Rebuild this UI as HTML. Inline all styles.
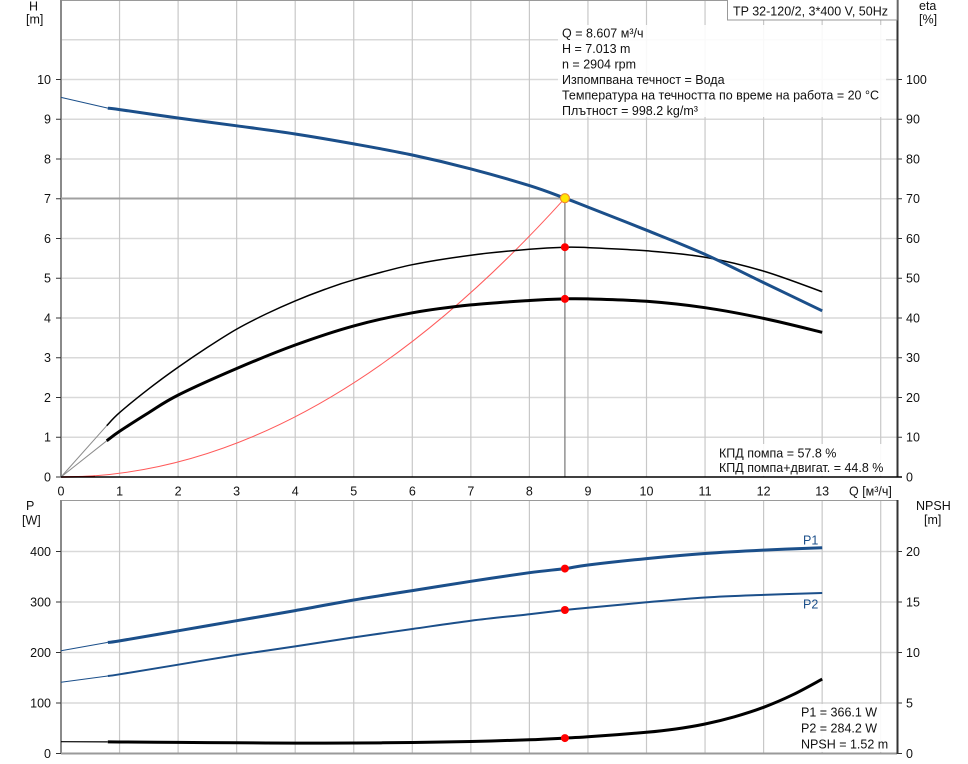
<!DOCTYPE html>
<html><head><meta charset="utf-8"><style>
html,body{margin:0;padding:0;background:#fff;}
svg{display:block;}
text{font-family:"Liberation Sans","DejaVu Sans",sans-serif;font-size:12.5px;fill:#111;}
</style></head><body>
<svg id="chart" width="968" height="764" viewBox="0 0 968 764" xmlns="http://www.w3.org/2000/svg">
<rect width="968" height="764" fill="#fff"/>
<!-- TOP CHART GRID -->
<g stroke="#d9d9d9" stroke-width="1.6">
<line x1="61" y1="437.25" x2="897" y2="437.25"/>
<line x1="61" y1="397.5" x2="897" y2="397.5"/>
<line x1="61" y1="357.75" x2="897" y2="357.75"/>
<line x1="61" y1="318" x2="897" y2="318"/>
<line x1="61" y1="278.25" x2="897" y2="278.25"/>
<line x1="61" y1="238.5" x2="897" y2="238.5"/>
<line x1="61" y1="198.75" x2="897" y2="198.75"/>
<line x1="61" y1="159" x2="897" y2="159"/>
<line x1="61" y1="119.25" x2="897" y2="119.25"/>
<line x1="61" y1="79.5" x2="897" y2="79.5"/>
<line x1="61" y1="39.75" x2="897" y2="39.75"/>
</g>
<g stroke="#c8c8c8" stroke-width="1.2">
<line x1="119.55" y1="0" x2="119.55" y2="477"/>
<line x1="178.1" y1="0" x2="178.1" y2="477"/>
<line x1="236.65" y1="0" x2="236.65" y2="477"/>
<line x1="295.2" y1="0" x2="295.2" y2="477"/>
<line x1="353.75" y1="0" x2="353.75" y2="477"/>
<line x1="412.3" y1="0" x2="412.3" y2="477"/>
<line x1="470.85" y1="0" x2="470.85" y2="477"/>
<line x1="529.4" y1="0" x2="529.4" y2="477"/>
<line x1="587.95" y1="0" x2="587.95" y2="477"/>
<line x1="646.5" y1="0" x2="646.5" y2="477"/>
<line x1="705.05" y1="0" x2="705.05" y2="477"/>
<line x1="763.6" y1="0" x2="763.6" y2="477"/>
<line x1="822.15" y1="0" x2="822.15" y2="477"/>
<line x1="880.7" y1="0" x2="880.7" y2="477"/>
</g>
<!-- BOTTOM CHART GRID -->
<g stroke="#d9d9d9" stroke-width="1.6">
<line x1="61" y1="703" x2="897" y2="703"/>
<line x1="61" y1="652.5" x2="897" y2="652.5"/>
<line x1="61" y1="602" x2="897" y2="602"/>
<line x1="61" y1="551.5" x2="897" y2="551.5"/>
</g>
<g stroke="#c8c8c8" stroke-width="1.2">
<line x1="119.55" y1="500" x2="119.55" y2="753"/>
<line x1="178.1" y1="500" x2="178.1" y2="753"/>
<line x1="236.65" y1="500" x2="236.65" y2="753"/>
<line x1="295.2" y1="500" x2="295.2" y2="753"/>
<line x1="353.75" y1="500" x2="353.75" y2="753"/>
<line x1="412.3" y1="500" x2="412.3" y2="753"/>
<line x1="470.85" y1="500" x2="470.85" y2="753"/>
<line x1="529.4" y1="500" x2="529.4" y2="753"/>
<line x1="587.95" y1="500" x2="587.95" y2="753"/>
<line x1="646.5" y1="500" x2="646.5" y2="753"/>
<line x1="705.05" y1="500" x2="705.05" y2="753"/>
<line x1="763.6" y1="500" x2="763.6" y2="753"/>
<line x1="822.15" y1="500" x2="822.15" y2="753"/>
<line x1="880.7" y1="500" x2="880.7" y2="753"/>
</g>

<!-- white label boxes -->
<rect x="558" y="25" width="328" height="92" fill="#fff" fill-opacity="0.88"/>
<rect x="714" y="444" width="171" height="32" fill="#fff" fill-opacity="0.9"/>
<rect x="797" y="704" width="90" height="48" fill="#fff" fill-opacity="0.9"/>

<!-- TOP AXES -->
<line x1="61" y1="0.5" x2="897" y2="0.5" stroke="#9a9a9a" stroke-width="1"/>
<line x1="61" y1="0" x2="61" y2="477" stroke="#8a8a8a" stroke-width="2"/>
<line x1="897.5" y1="0" x2="897.5" y2="477" stroke="#333" stroke-width="2"/>
<g stroke="#333" stroke-width="1">
<line x1="56" y1="477" x2="61" y2="477"/><line x1="56" y1="437.25" x2="61" y2="437.25"/><line x1="56" y1="397.5" x2="61" y2="397.5"/><line x1="56" y1="357.75" x2="61" y2="357.75"/><line x1="56" y1="318" x2="61" y2="318"/><line x1="56" y1="278.25" x2="61" y2="278.25"/><line x1="56" y1="238.5" x2="61" y2="238.5"/><line x1="56" y1="198.75" x2="61" y2="198.75"/><line x1="56" y1="159" x2="61" y2="159"/><line x1="56" y1="119.25" x2="61" y2="119.25"/><line x1="56" y1="79.5" x2="61" y2="79.5"/>
<line x1="897" y1="437.25" x2="902" y2="437.25"/><line x1="897" y1="397.5" x2="902" y2="397.5"/><line x1="897" y1="357.75" x2="902" y2="357.75"/><line x1="897" y1="318" x2="902" y2="318"/><line x1="897" y1="278.25" x2="902" y2="278.25"/><line x1="897" y1="238.5" x2="902" y2="238.5"/><line x1="897" y1="198.75" x2="902" y2="198.75"/><line x1="897" y1="159" x2="902" y2="159"/><line x1="897" y1="119.25" x2="902" y2="119.25"/><line x1="897" y1="79.5" x2="902" y2="79.5"/>
</g>

<!-- BOTTOM AXES -->
<line x1="61" y1="500.5" x2="897" y2="500.5" stroke="#9a9a9a" stroke-width="1"/>
<line x1="61" y1="500" x2="61" y2="754" stroke="#8a8a8a" stroke-width="2"/>
<line x1="61" y1="753.5" x2="897" y2="753.5" stroke="#9a9a9a" stroke-width="2"/>
<line x1="897.5" y1="500" x2="897.5" y2="754" stroke="#333" stroke-width="2"/>
<g stroke="#333" stroke-width="1">
<line x1="56" y1="753.5" x2="61" y2="753.5"/><line x1="56" y1="703" x2="61" y2="703"/><line x1="56" y1="652.5" x2="61" y2="652.5"/><line x1="56" y1="602" x2="61" y2="602"/><line x1="56" y1="551.5" x2="61" y2="551.5"/>
<line x1="897" y1="753.5" x2="902" y2="753.5"/><line x1="897" y1="703" x2="902" y2="703"/><line x1="897" y1="652.5" x2="902" y2="652.5"/><line x1="897" y1="602" x2="902" y2="602"/><line x1="897" y1="551.5" x2="902" y2="551.5"/>
</g>

<!-- operating point guide lines -->
<line x1="61" y1="198.5" x2="564.9" y2="198.5" stroke="#a0a0a0" stroke-width="2"/>
<line x1="564.9" y1="198.5" x2="564.9" y2="477" stroke="#808080" stroke-width="1.3"/>

<!-- red system curve -->
<path d="M61,477 Q312.95,477 564.9,198.2" fill="none" stroke="#ff5a5a" stroke-width="1"/>
<line x1="61" y1="477" x2="95" y2="476.5" stroke="#e00000" stroke-width="1.5"/>

<!-- eta curves -->
<line x1="61" y1="477" x2="106.7" y2="425.7" stroke="#8c8c8c" stroke-width="1"/>
<line x1="61" y1="477" x2="106.7" y2="440.8" stroke="#8c8c8c" stroke-width="1"/>
<polyline class="s" fill="none" stroke="#000" stroke-width="1.5" stroke-linejoin="round" points="106.7,425.7 119.6,412.6 148.8,388.8 178.1,367.3 207.4,347.4 236.7,329.1 266,314 295.2,300.9 324.5,289.5 353.8,279.8 412.3,264.7 470.9,255.2 529.4,249.2 564.9,247.2 588,247.6 646.5,250.8 705.1,257.2 763.6,271.1 822.2,291.8"/>
<polyline class="s" fill="none" stroke="#000" stroke-width="3" stroke-linejoin="round" points="106.7,440.8 119.6,431.3 148.8,412.6 178.1,395.1 236.7,368.5 295.2,345.0 353.8,325.9 412.3,312.8 470.9,304.9 529.4,300.5 564.9,298.9 588,298.9 646.5,301.3 705.1,307.7 763.6,318.4 822.2,332.3"/>

<!-- H curve -->
<line x1="61" y1="97.4" x2="107.8" y2="108.1" stroke="#1b4f8a" stroke-width="1"/>
<polyline class="s" fill="none" stroke="#1b4f8a" stroke-width="3" stroke-linejoin="round" points="107.8,108.2 119.6,109.6 178.1,118.0 236.7,125.8 295.2,134.0 353.8,143.9 412.3,155.0 470.9,168.9 529.4,185.6 564.9,198.2 588,207.1 646.5,230.2 705.1,254.4 763.6,282.6 822.2,310.8"/>

<!-- x axis top -->
<line x1="61" y1="477" x2="902" y2="477" stroke="#000" stroke-width="1.5"/>

<!-- markers top -->
<circle cx="564.9" cy="198.2" r="4.5" fill="#ffe600" stroke="#f08a30" stroke-width="1.2"/>
<circle cx="564.9" cy="247.2" r="4" fill="#ff0000"/>
<circle cx="564.9" cy="298.9" r="4" fill="#ff0000"/>

<!-- P1 -->
<line x1="61" y1="650.7" x2="107.8" y2="642.4" stroke="#1b4f8a" stroke-width="1"/>
<polyline class="s" fill="none" stroke="#1b4f8a" stroke-width="3" stroke-linejoin="round" points="107.8,642.4 119.6,640.9 178.1,630.8 236.7,620.7 295.2,610.6 353.8,600.0 412.3,590.6 470.9,581.3 529.4,572.7 564.9,568.6 588,565.0 646.5,558.6 705.1,553.5 763.6,550.1 822.2,547.7"/>
<!-- P2 -->
<line x1="61" y1="682.3" x2="107.8" y2="676.0" stroke="#1b4f8a" stroke-width="1"/>
<polyline class="s" fill="none" stroke="#1b4f8a" stroke-width="2" stroke-linejoin="round" points="107.8,676.0 119.6,674.3 178.1,664.7 236.7,655.0 295.2,646.4 353.8,637.4 412.3,629.0 470.9,620.7 529.4,614.2 564.9,610.0 588,607.8 646.5,602.3 705.1,597.5 763.6,594.9 822.2,593.0"/>
<!-- NPSH -->
<line x1="61" y1="741.7" x2="107.8" y2="741.9" stroke="#000" stroke-width="1.2"/>
<polyline class="s" fill="none" stroke="#000" stroke-width="3" stroke-linejoin="round" points="107.8,741.9 119.6,742.0 178.1,742.4 236.7,742.8 295.2,743.1 353.8,743.0 412.3,742.5 470.9,741.5 529.4,739.8 564.9,738.1 588,736.8 646.5,732.3 675.8,729.0 705.1,724.0 734.4,716.8 763.6,707.3 792.9,694.7 822.2,679.1"/>
<circle cx="564.9" cy="568.6" r="4" fill="#ff0000"/>
<circle cx="564.9" cy="610.0" r="4" fill="#ff0000"/>
<circle cx="564.9" cy="738.1" r="4" fill="#ff0000"/>

<!-- title box -->
<rect x="727.5" y="-1" width="169.5" height="21" fill="#fff" stroke="#999" stroke-width="1"/>
<text x="733" y="15.5">TP 32-120/2, 3*400 V, 50Hz</text>

<!-- axis titles -->
<text x="29" y="10.3">H</text>
<text x="26" y="23.5">[m]</text>
<text x="919" y="10">eta</text>
<text x="919" y="23.5">[%]</text>
<text x="26" y="510">P</text>
<text x="22" y="524.5">[W]</text>
<text x="916" y="510">NPSH</text>
<text x="924" y="524">[m]</text>

<!-- tick labels -->
<g text-anchor="end">
<text x="51" y="481.3">0</text><text x="51" y="441.6">1</text><text x="51" y="401.8">2</text><text x="51" y="362.1">3</text><text x="51" y="322.3">4</text><text x="51" y="282.6">5</text><text x="51" y="242.8">6</text><text x="51" y="203.1">7</text><text x="51" y="163.3">8</text><text x="51" y="123.6">9</text><text x="51" y="83.8">10</text>
<text x="51" y="757.8">0</text><text x="51" y="707.3">100</text><text x="51" y="656.8">200</text><text x="51" y="606.3">300</text><text x="51" y="555.8">400</text>
</g>
<g>
<text x="906" y="481.3">0</text><text x="906" y="441.6">10</text><text x="906" y="401.8">20</text><text x="906" y="362.1">30</text><text x="906" y="322.3">40</text><text x="906" y="282.6">50</text><text x="906" y="242.8">60</text><text x="906" y="203.1">70</text><text x="906" y="163.3">80</text><text x="906" y="123.6">90</text><text x="906" y="83.8">100</text>
<text x="906" y="757.8">0</text><text x="906" y="707.3">5</text><text x="906" y="656.8">10</text><text x="906" y="606.3">15</text><text x="906" y="555.8">20</text>
</g>
<g text-anchor="middle">
<text x="61" y="495.3">0</text><text x="119.55" y="495.3">1</text><text x="178.1" y="495.3">2</text><text x="236.65" y="495.3">3</text><text x="295.2" y="495.3">4</text><text x="353.75" y="495.3">5</text><text x="412.3" y="495.3">6</text><text x="470.85" y="495.3">7</text><text x="529.4" y="495.3">8</text><text x="587.95" y="495.3">9</text><text x="646.5" y="495.3">10</text><text x="705.05" y="495.3">11</text><text x="763.6" y="495.3">12</text><text x="822.15" y="495.3">13</text>
</g>
<text x="849" y="495.3">Q [м³/ч]</text>

<!-- info text -->
<text x="562" y="37.5">Q = 8.607 м³/ч</text>
<text x="562" y="53">H = 7.013 m</text>
<text x="562" y="68.5">n = 2904 rpm</text>
<text x="562" y="84">Изпомпвана течност = Вода</text>
<text x="562" y="99.5">Температура на течността по време на работа = 20 °C</text>
<text x="562" y="115">Плътност = 998.2 kg/m³</text>

<text x="719" y="457.6">КПД помпа = 57.8 %</text>
<text x="719" y="472">КПД помпа+двигат. = 44.8 %</text>

<text x="803" y="544.3" style="fill:#1b4f8a">P1</text>
<text x="803" y="608.3" style="fill:#1b4f8a">P2</text>

<text x="801" y="716.6">P1 = 366.1 W</text>
<text x="801" y="732.6">P2 = 284.2 W</text>
<text x="801" y="748.3">NPSH = 1.52 m</text>
</svg>
<script>
(function(){
  var NS='http://www.w3.org/2000/svg';
  var pls=document.querySelectorAll('polyline.s');
  for(var k=0;k<pls.length;k++){
    var pl=pls[k];
    var raw=pl.getAttribute('points').trim().split(/\s+/);
    var pts=[];
    for(var j=0;j<raw.length;j++){var a=raw[j].split(',');pts.push([+a[0],+a[1]]);}
    var d='M'+pts[0][0]+','+pts[0][1];
    for(var i=0;i<pts.length-1;i++){
      var p0=pts[i-1]||pts[i],p1=pts[i],p2=pts[i+1],p3=pts[i+2]||p2;
      var c1x=p1[0]+(p2[0]-p0[0])/6,c1y=p1[1]+(p2[1]-p0[1])/6;
      var c2x=p2[0]-(p3[0]-p1[0])/6,c2y=p2[1]-(p3[1]-p1[1])/6;
      d+=' C'+c1x.toFixed(2)+','+c1y.toFixed(2)+' '+c2x.toFixed(2)+','+c2y.toFixed(2)+' '+p2[0]+','+p2[1];
    }
    var p=document.createElementNS(NS,'path');
    p.setAttribute('d',d);
    p.setAttribute('fill','none');
    p.setAttribute('stroke',pl.getAttribute('stroke'));
    p.setAttribute('stroke-width',pl.getAttribute('stroke-width'));
    p.setAttribute('stroke-linecap','butt');
    pl.parentNode.replaceChild(p,pl);
  }
})();
</script>
</body></html>
